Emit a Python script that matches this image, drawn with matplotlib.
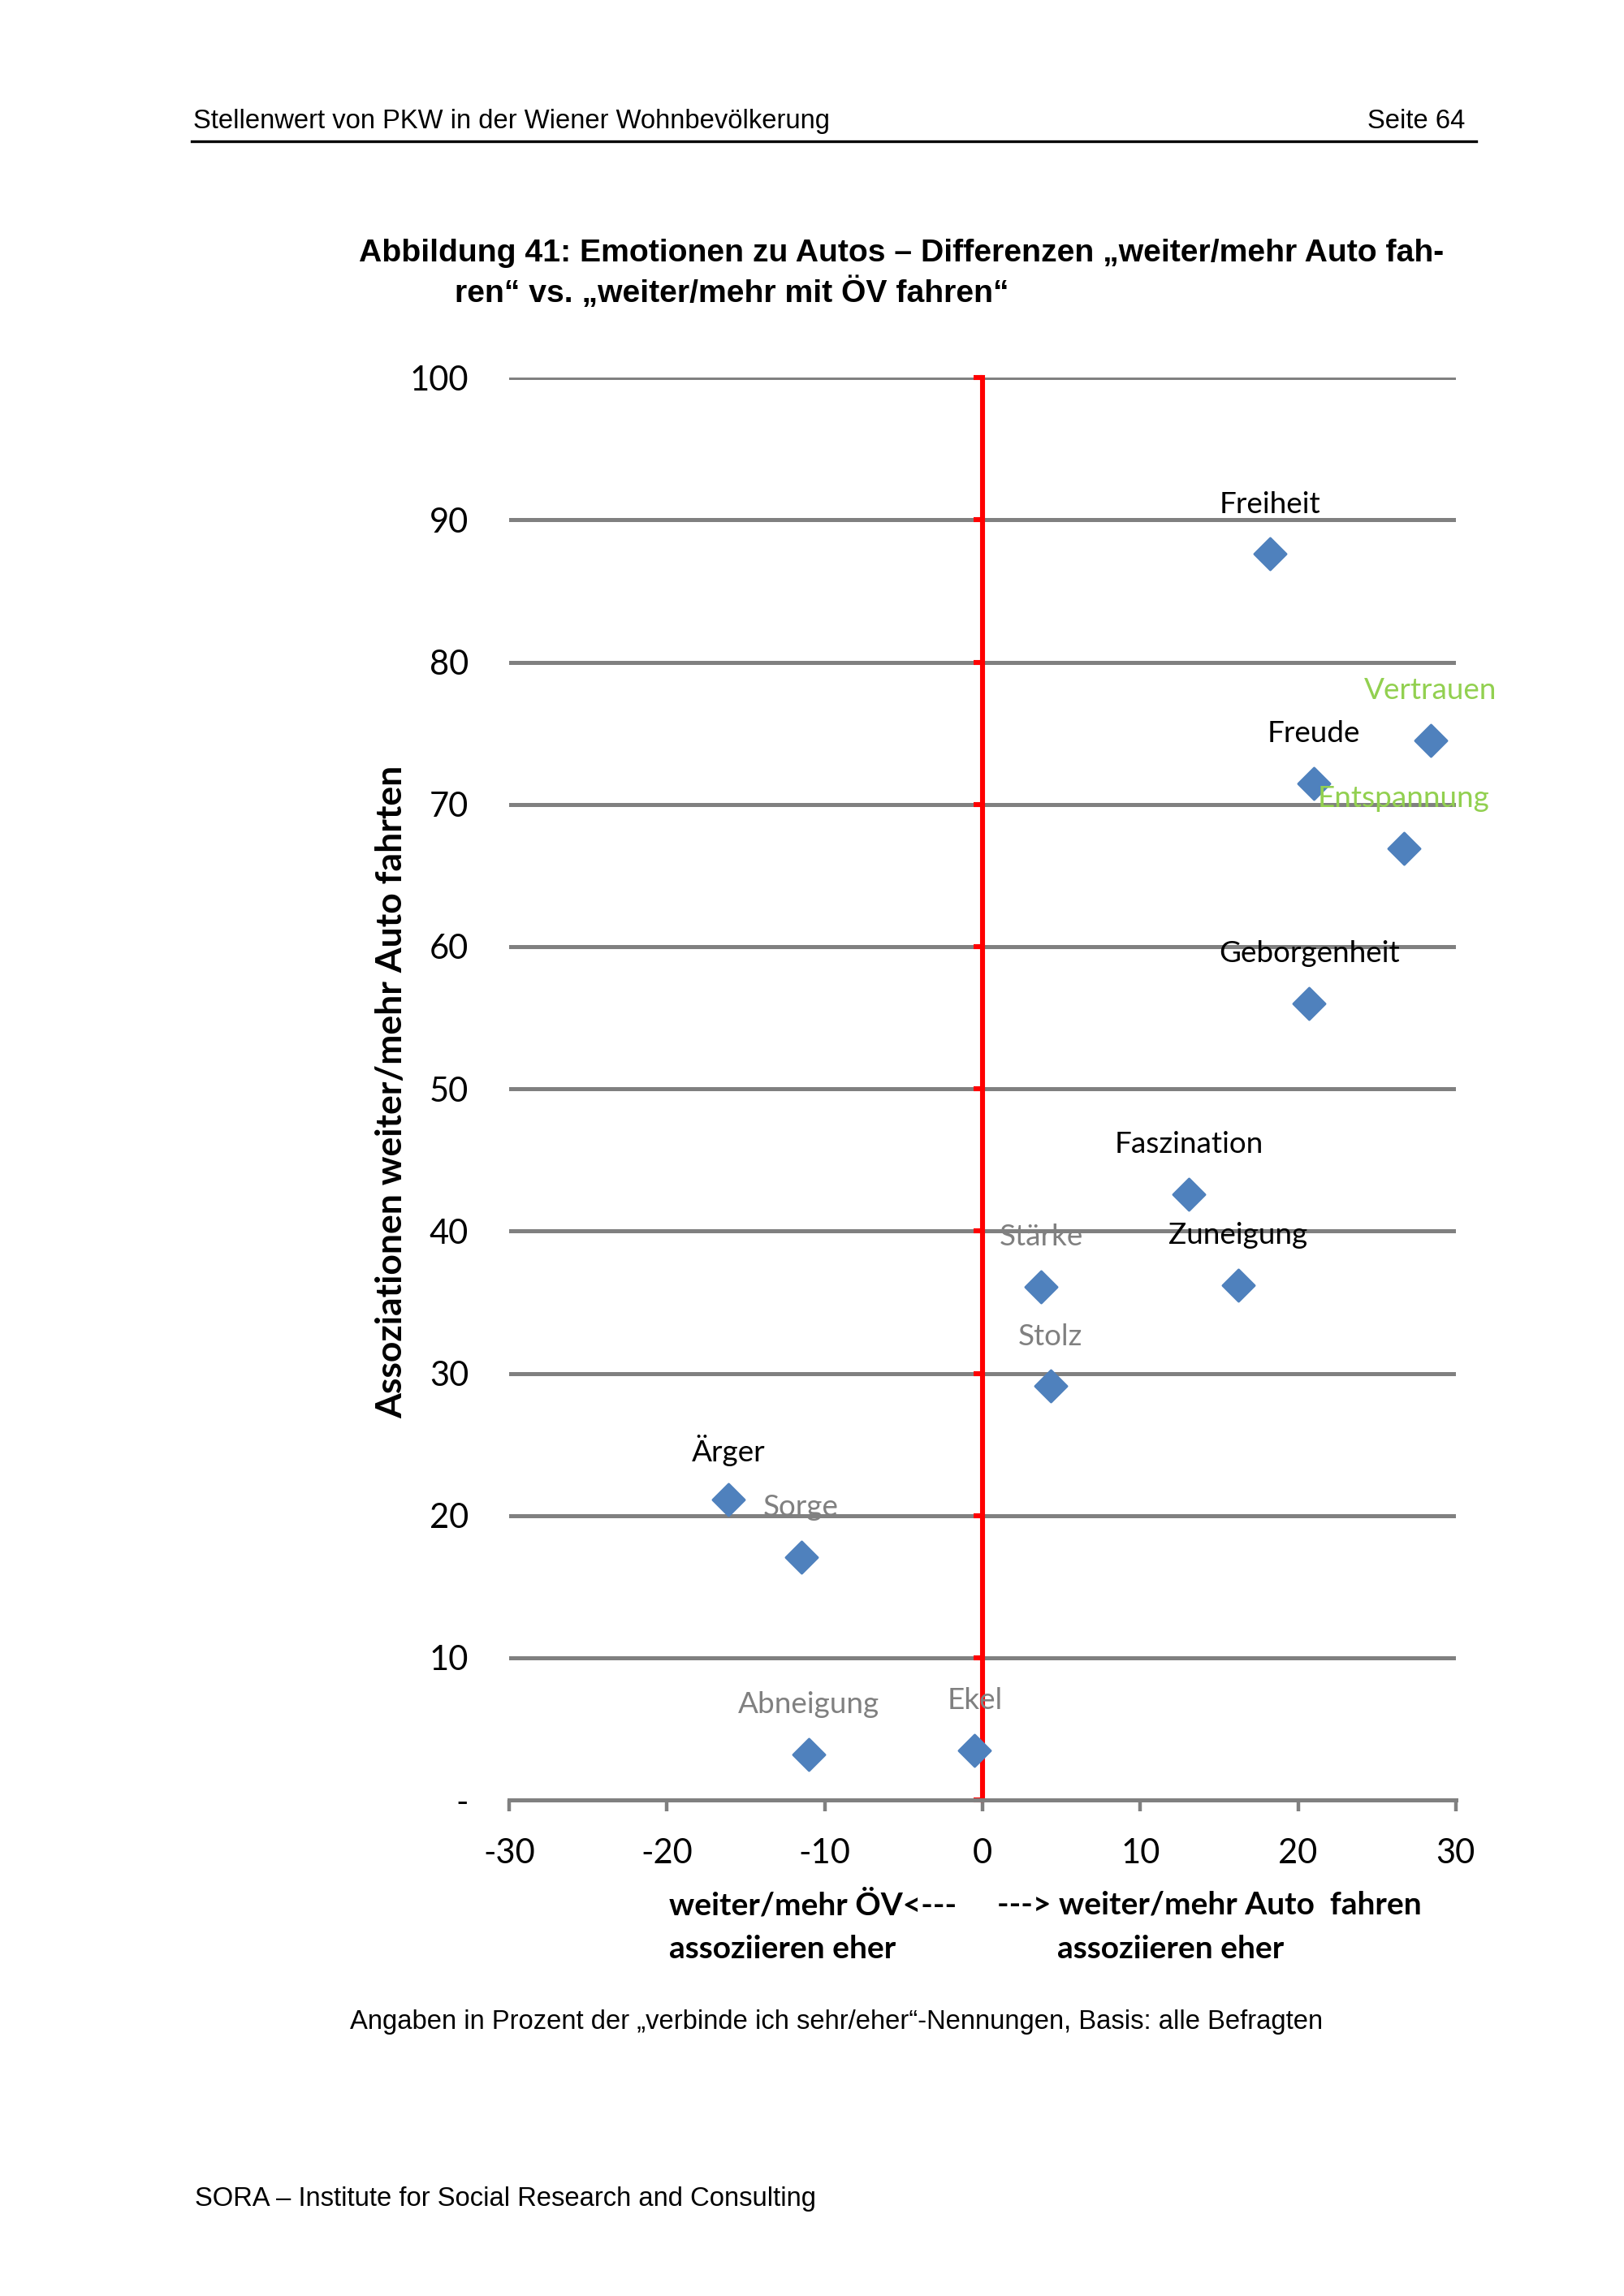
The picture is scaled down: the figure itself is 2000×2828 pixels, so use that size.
import matplotlib.pyplot as plt
import matplotlib.font_manager as fm

# Emotionen: x = Differenz (Auto - OEV), y = Assoziation weiter/mehr Auto fahren
labels = ["Freiheit", "Vertrauen", "Freude", "Entspannung", "Geborgenheit", "Faszination",
          "Zuneigung", "Stärke", "Stolz", "Ärger", "Sorge", "Abneigung", "Ekel"]
diff = [18.2, 28.4, 21.0, 26.7, 20.7, 13.1, 16.2, 3.7, 4.3, -16.1, -11.5, -11.0, -0.5]
auto = [87.6, 74.5, 71.5, 66.9, 56.0, 42.6, 36.2, 36.1, 29.1, 21.1, 17.1, 3.2, 3.5]
label_colors = ["black", "#92D050", "black", "#92D050", "black", "black",
                "black", "#808080", "#808080", "black", "#808080", "#808080", "#808080"]

yticks = list(range(0, 101, 10))
ytick_labels = ["-"] + [str(v) for v in yticks[1:]]
xticks = list(range(-30, 31, 10))

plt.rcParams["axes.unicode_minus"] = False

installed = {f.name for f in fm.fontManager.ttflist}
chart_font = "Lato" if "Lato" in installed else "DejaVu Sans"
narrow = "Liberation Sans Narrow" if "Liberation Sans Narrow" in installed else "Liberation Sans"
page_font = "Liberation Sans"

fig = plt.figure(figsize=(10, 14.14), dpi=200)
ax = fig.add_axes([0.3136, 0.216, 0.5828, 0.6195])

ax.set_xlim(-30, 30)
ax.set_ylim(0, 100)

# horizontale Gitterlinien
for v in yticks[1:]:
    ax.axhline(v, color="#808080", lw=1.8, zorder=1)

# rote y-Achse bei x=0
for s in ["top", "right"]:
    ax.spines[s].set_visible(False)
ax.spines["left"].set_position(("data", 0))
ax.spines["left"].set_color("red")
ax.spines["left"].set_linewidth(2.2)
ax.spines["left"].set_zorder(2)
ax.set_yticks(yticks)
ax.tick_params(axis="y", which="both", direction="out", length=4, width=2.2, color="red", labelleft=False)

ax.spines["bottom"].set_color("#808080")
ax.spines["bottom"].set_linewidth(1.8)
ax.set_xticks(xticks)
ax.tick_params(axis="x", direction="out", length=5, width=1.6, color="#808080",
               labelsize=15, pad=12)
for t in ax.get_xticklabels():
    t.set_fontfamily(chart_font)

sec = ax.secondary_yaxis(0.0)
sec.set_yticks(yticks)
sec.set_yticklabels(ytick_labels)
sec.spines["left"].set_visible(False)
sec.tick_params(length=0, labelsize=15, pad=18)
for t in sec.get_yticklabels():
    t.set_fontfamily(chart_font)

ax.scatter(diff, auto, marker="D", s=100, color="#4F81BD", zorder=4, clip_on=False)
for lab, x, y, c in zip(labels, diff, auto, label_colors):
    ax.annotate(lab, (x, y), xytext=(0, 22), textcoords="offset points", ha="center",
                va="center", fontsize=13.3, color=c, fontfamily=chart_font, zorder=5)

# Achsentitel
fig.text(0.241, 0.5244, "Assoziationen weiter/mehr Auto fahrten", rotation=90, ha="center",
         va="center", fontsize=16, fontweight="bold", fontfamily=chart_font)
fig.text(0.412, 0.1703, "weiter/mehr ÖV<---", ha="left", va="center", fontsize=14,
         fontweight="bold", fontfamily=chart_font)
fig.text(0.412, 0.1510, "assoziieren eher", ha="left", va="center", fontsize=14,
         fontweight="bold", fontfamily=chart_font)
fig.text(0.614, 0.1703, "---> weiter/mehr Auto  fahren", ha="left", va="center", fontsize=14,
         fontweight="bold", fontfamily=chart_font)
fig.text(0.651, 0.1510, "assoziieren eher", ha="left", va="center", fontsize=14,
         fontweight="bold", fontfamily=chart_font)

# Seitenelemente
fig.text(0.119, 0.947, "Stellenwert von PKW in der Wiener Wohnbevölkerung", ha="left",
         va="center", fontsize=11.8, fontfamily=page_font)
fig.text(0.902, 0.947, "Seite 64", ha="right", va="center", fontsize=11.8, fontfamily=page_font)
fig.add_artist(plt.Line2D([0.118, 0.909], [0.9383, 0.9383], color="black", lw=1.2))

fig.text(0.2209, 0.8895, "Abbildung 41: Emotionen zu Autos – Differenzen „weiter/mehr Auto fah-",
         ha="left", va="center", fontsize=14.1, fontweight="bold", fontfamily=narrow)
fig.text(0.28, 0.8728, "ren“ vs. „weiter/mehr mit ÖV fahren“",
         ha="left", va="center", fontsize=14.1, fontweight="bold", fontfamily=narrow)

fig.text(0.2155, 0.1195, "Angaben in Prozent der „verbinde ich sehr/eher“-Nennungen, Basis: alle Befragten",
         ha="left", va="center", fontsize=11.8, fontfamily=page_font)
fig.text(0.12, 0.0424, "SORA – Institute for Social Research and Consulting", ha="left",
         va="center", fontsize=11.8, fontfamily=page_font)

fig.savefig("out.png", dpi=200)
